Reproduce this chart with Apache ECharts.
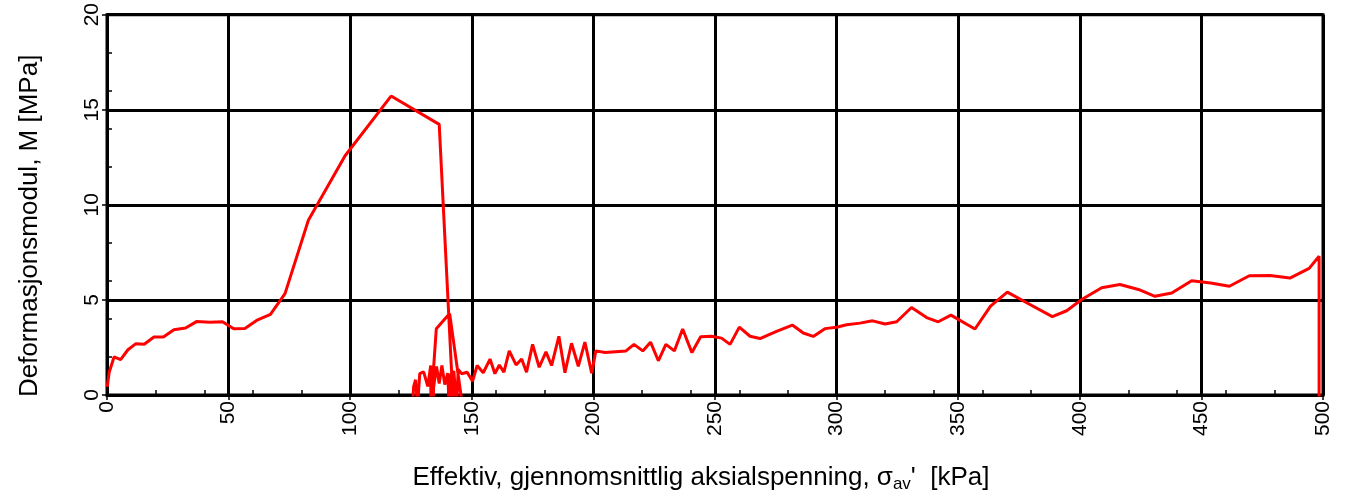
<!DOCTYPE html>
<html>
<head>
<meta charset="utf-8">
<script src="https://cdn.jsdelivr.net/npm/echarts@6/dist/echarts.min.js"></script>
<style>
  html, body { margin: 0; padding: 0; background: #fff; }
  #container { width: 1347px; height: 498px; }
</style>
</head>
<body>
<div id="container"></div>
<script>
// effektiv aksialspenning [kPa]
const stress = [
  0.1, 0.9, 2.9, 5.6, 8.6, 11.9, 15.3, 19.3, 23.2, 27.5, 32.3, 36.8, 42.3, 47.5,
  52.1, 56.7, 61.5, 67.2, 73.2, 82.8, 97.9, 116.8, 136.6, 142.4,
  125.6, 126.1, 126.9, 127.7, 128.6, 130.2, 131.9, 133.1, 133.2, 133.6, 135.4, 140.9, 146.2,
  134.0, 134.3, 135.5, 136.6, 137.7, 138.9, 140.1, 140.7, 141.3, 142.6, 143.8, 144.4, 145.8,
  148.1, 150.3, 152.2, 154.7, 157.5, 159.5, 161.3, 163.2, 165.4, 168.2, 170.5, 172.5,
  175.0, 177.7, 180.5, 182.8, 185.8, 188.3, 191.0, 193.8, 196.5, 199.3, 201.0, 204.8,
  213.4, 216.7, 220.3, 223.5, 226.7, 229.8, 233.3, 236.7, 240.5, 244.1, 248.6, 252.7,
  256.2, 260.0, 264.4, 268.5, 275.3, 281.8, 286.3, 290.4, 295.2, 300.0, 304.1, 309.6,
  314.8, 319.9, 324.7, 330.8, 337.0, 341.8, 347.0, 356.9, 363.3, 370.2, 379.5, 388.7,
  394.6, 400.8, 409.0, 416.5, 424.1, 430.9, 437.8, 446.0, 453.8, 461.5, 469.7, 478.2,
  486.4, 494.3, 498.4, 498.4
];
// deformasjonsmodul M [MPa]
const modulus = [
  0.43, 1.2, 2.0, 1.86, 2.38, 2.7, 2.67, 3.05, 3.05, 3.43, 3.52, 3.86, 3.83, 3.85,
  3.48, 3.5, 3.92, 4.24, 5.33, 9.19, 12.58, 15.72, 14.23, -0.6,
  -0.6, 0.45, 0.8, -0.6, 1.12, 1.22, 0.45, 1.55, -0.6, -0.6, 3.48, 4.28, -0.6,
  -0.6, 0.4, 1.5, 0.6, 1.55, 0.55, 1.15, -0.6, 1.05, 1.25, -0.6, 1.35, 1.12,
  1.2, 0.72, 1.55, 1.17, 1.89, 1.12, 1.58, 1.2, 2.32, 1.58, 1.89, 1.2,
  2.66, 1.46, 2.27, 1.55, 3.09, 1.17, 2.72, 1.51, 2.78, 1.15, 2.32, 2.23,
  2.32, 2.66, 2.32, 2.78, 1.8, 2.66, 2.32, 3.47, 2.23, 3.06, 3.09, 2.99,
  2.66, 3.57, 3.09, 2.97, 3.35, 3.68, 3.26, 3.08, 3.49, 3.56, 3.69, 3.78,
  3.9, 3.73, 3.85, 4.6, 4.07, 3.85, 4.2, 3.47, 4.67, 5.41, 4.76, 4.12,
  4.43, 5.02, 5.64, 5.81, 5.55, 5.19, 5.36, 6.01, 5.89, 5.72, 6.27, 6.29,
  6.15, 6.66, 7.3, -0.6
];

const xTicks = { min: 0, max: 500, major: 50, minor: 20 };
const yTicks = { min: 0, max: 20, major: 5, minor: 2 };

const font = 'Liberation Sans, Arial, sans-serif';

let chart = echarts.init(document.querySelector('#container'));

let points = stress.map((s, i) => [s, modulus[i]]);

chart.setOption({
  animation: false,
  backgroundColor: '#fff',
  grid: {
    left: 107, right: 24, top: 12, bottom: 98,
    show: true, borderColor: '#000', borderWidth: 3
  },
  xAxis: [{
    type: 'value',
    position: 'bottom',
    min: xTicks.min, max: xTicks.max, interval: xTicks.major,
    axisLine: { show: true, onZero: false, lineStyle: { color: '#000', width: 3 } },
    axisTick: { show: true, length: 5, lineStyle: { color: '#000', width: 1.5 } },
    axisLabel: { rotate: 90, margin: 6, color: '#000', fontSize: 21, fontFamily: font },
    splitLine: { show: true, lineStyle: { color: '#000', width: 3 } },
    name: '{a|Effektiv, gjennomsnittlig aksialspenning, σ}{s|av}{a|\'  [kPa]}',
    nameLocation: 'middle',
    nameGap: 68,
    nameTextStyle: {
      padding: [0, 28, 0, 0],
      rich: {
        a: { fontSize: 26, fontFamily: font, color: '#000', lineHeight: 30 },
        s: { fontSize: 17, fontFamily: font, color: '#000', lineHeight: 16, verticalAlign: 'bottom' }
      }
    }
  }, {
    // mindre merker
    type: 'value',
    position: 'bottom',
    min: xTicks.min, max: xTicks.max, interval: xTicks.minor,
    axisLine: { show: false },
    axisTick: { show: true, inside: true, length: 5, lineStyle: { color: '#000', width: 1.5 } },
    axisLabel: { show: false },
    splitLine: { show: false }
  }],
  yAxis: [{
    type: 'value',
    position: 'left',
    min: yTicks.min, max: yTicks.max, interval: yTicks.major,
    axisLine: { show: true, onZero: false, lineStyle: { color: '#000', width: 3 } },
    axisTick: { show: true, length: 5, lineStyle: { color: '#000', width: 1.5 } },
    axisLabel: { rotate: 90, margin: 4, color: '#000', fontSize: 21, fontFamily: font },
    splitLine: { show: true, lineStyle: { color: '#000', width: 3 } },
    name: 'Deformasjonsmodul, M [MPa]',
    nameLocation: 'middle',
    nameGap: 64,
    nameTextStyle: { color: '#000', fontSize: 26, fontFamily: font, padding: [0, 42, 0, 0] }
  }, {
    type: 'value',
    position: 'left',
    min: yTicks.min, max: yTicks.max, interval: yTicks.minor,
    axisLine: { show: false },
    axisTick: { show: true, inside: true, length: 5, lineStyle: { color: '#000', width: 1.5 } },
    axisLabel: { show: false },
    splitLine: { show: false }
  }],
  series: [{
    type: 'line',
    data: points,
    showSymbol: false,
    clip: true,
    color: '#ff0000',
    lineStyle: { color: '#ff0000', width: 3 },
    z: 5
  }]
});
</script>
</body>
</html>
